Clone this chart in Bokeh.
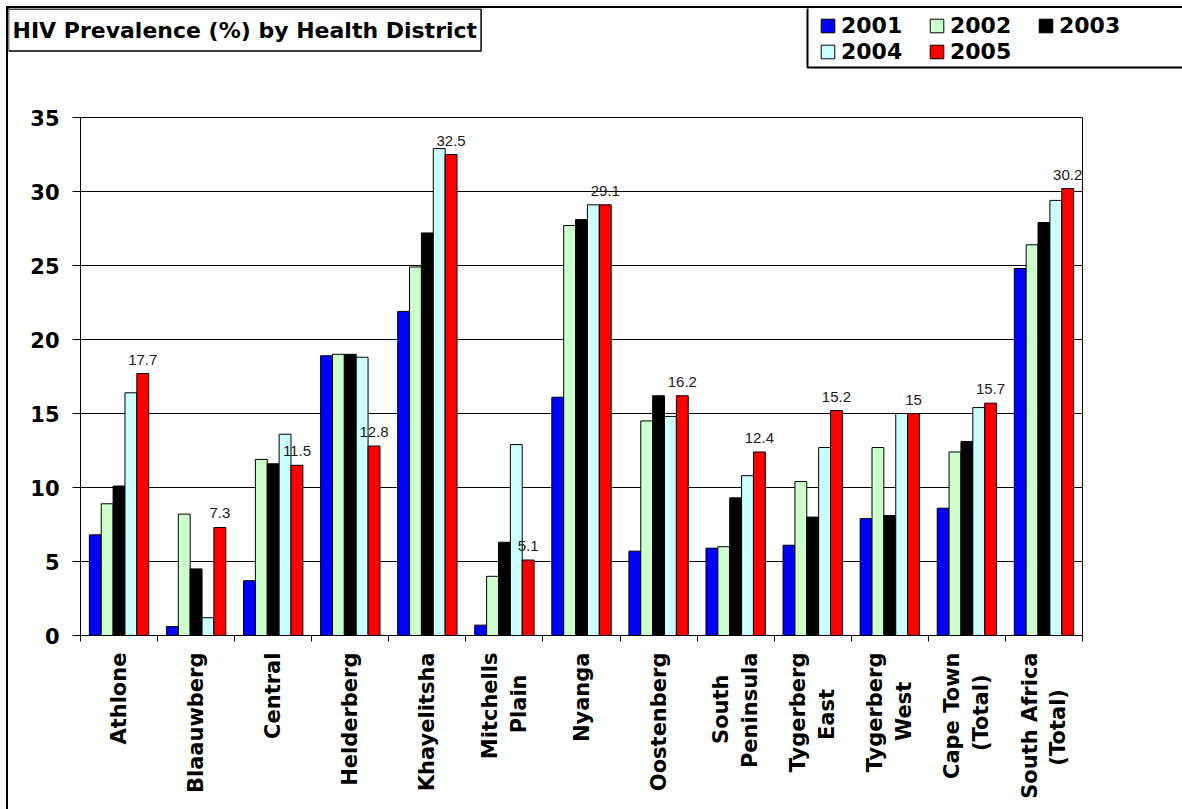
import math
from bokeh.plotting import figure
from bokeh.layouts import column
from bokeh.models import (ColumnDataSource, Range1d, FixedTicker, Legend, LegendItem,
                          LabelSet, Label, BoxAnnotation)
from bokeh.core.properties import value
from bokeh.transform import dodge
from bokeh.embed import file_html
from bokeh.resources import INLINE

NB = "\u00a0"
districts = ["Athlone", "Blaauwberg", "Central", "Helderberg", "Khayelitsha",
             "Mitchells\nPlain" + NB * 3, "Nyanga", "Oostenberg",
             "South" + NB * 3 + "\nPeninsula",
             "Tygerberg\nEast" + NB * 5, "Tygerberg\nWest" + NB * 4,
             "Cape Town\n(Total)" + NB * 3,
             "South Africa\n(Total)" + NB * 5]
years = ["2001", "2002", "2003", "2004", "2005"]
y2001 = [6.8, 0.6, 3.7, 18.9, 21.9, 0.7, 16.1, 5.7, 5.9, 6.1, 7.9, 8.6, 24.8]
y2002 = [8.9, 8.2, 11.9, 19.0, 24.9, 4.0, 27.7, 14.5, 6.0, 10.4, 12.7, 12.4, 26.4]
y2003 = [10.1, 4.5, 11.6, 19.0, 27.2, 6.3, 28.1, 16.2, 9.3, 8.0, 8.1, 13.1, 27.9]
y2004 = [16.4, 1.2, 13.6, 18.8, 32.9, 12.9, 29.1, 14.8, 10.8, 12.7, 15.0, 15.4, 29.4]
y2005 = [17.7, 7.3, 11.5, 12.8, 32.5, 5.1, 29.1, 16.2, 12.4, 15.2, 15.0, 15.7, 30.2]
labels_2005 = ["17.7", "7.3", "11.5", "12.8", "32.5", "5.1", "29.1", "16.2",
               "12.4", "15.2", "15", "15.7", "30.2"]
y_ticks = [0, 5, 10, 15, 20, 25, 30, 35]
colors = ["#0000FF", "#CCFFCC", "#000000", "#CCFFFF", "#FF0000"]

W = 1174
H_HEAD = 70
H_MAIN = 731
BAR_W = 0.154
BOLD = "DejaVu Sans"


def no_align(fig):
    try:
        fig.frame_align = False
    except Exception:
        pass


# ---------------- header: title box and legend (pixel-sized ranges) ----------------
head = figure(width=W, height=H_HEAD, output_backend="svg", toolbar_location=None,
              x_range=Range1d(0, W), y_range=Range1d(H_HEAD, 0),
              x_axis_location=None, y_axis_location=None, min_border=0)
head.min_border_left = 0
head.min_border_right = 0
head.min_border_top = 0
head.min_border_bottom = 0
no_align(head)
head.outline_line_color = None
head.grid.visible = False
head.background_fill_color = "white"
head.border_fill_color = "white"

# legend-only renderers: one zero-height bar placed off the header's view
swatch_src = ColumnDataSource(dict(x=[-1000], top=[0]))
dummy = []
for col in colors:
    r = head.vbar(x="x", top="top", width=1, source=swatch_src,
                  fill_color=col, line_color="black", line_width=1)
    dummy.append(r)

legend_box = BoxAnnotation(left=799, right=W + 40, top=-10, bottom=59,
                           fill_color="white", fill_alpha=1,
                           line_color="black", line_alpha=1, line_width=2,
                           level="underlay")
head.add_layout(legend_box)

legend = Legend(items=[LegendItem(label=y, renderers=[r]) for y, r in zip(years, dummy)],
                location=(811, 14), orientation="horizontal", ncols=3,
                glyph_width=17, glyph_height=17, label_standoff=5, label_width=86,
                label_height=24, spacing=1, padding=3, margin=0,
                border_line_color=None, background_fill_alpha=0,
                label_text_font=BOLD, label_text_font_style="bold",
                label_text_font_size="22px", label_text_color="black")
head.add_layout(legend, "center")

title = Label(x=0, y=21.5, text="HIV Prevalence (%) by Health District",
              text_font=BOLD, text_font_style="bold", text_font_size="22px",
              text_align="left", text_baseline="middle", text_color="black",
              border_line_color="black", border_line_width=1.5,
              background_fill_color="white", background_fill_alpha=1,
              padding=dict(left=4, right=4, top=9, bottom=8))
head.add_layout(title)

# ---------------- main chart ----------------
src = ColumnDataSource(dict(
    x=list(range(1, len(districts) + 1)),
    y2001=y2001, y2002=y2002, y2003=y2003, y2004=y2004, y2005=y2005,
    lab=labels_2005,
))

p = figure(width=W, height=H_MAIN, output_backend="svg", toolbar_location=None,
           x_range=Range1d(0.5, len(districts) + 0.5), y_range=Range1d(0, 35),
           min_border_left=72, min_border_right=100, min_border_top=39,
           min_border_bottom=174)
no_align(p)
p.background_fill_color = "white"
p.border_fill_color = "white"
p.outline_line_color = "black"
p.outline_line_width = 1

cols = ["y2001", "y2002", "y2003", "y2004", "y2005"]
for i, (c, col) in enumerate(zip(cols, colors)):
    off = (i - 2) * BAR_W
    p.vbar(x=dodge("x", off, range=p.x_range), top=c, width=BAR_W, source=src,
           fill_color=col, line_color="black", line_width=1)

ls = LabelSet(x=dodge("x", 2 * BAR_W, range=p.x_range), y="y2005", text="lab", source=src,
              text_align="center", text_baseline="alphabetic", y_offset=9,
              text_font=value("Liberation Sans"), text_font_size="15px",
              text_color="#1a1a1a")
p.add_layout(ls)

p.yaxis.ticker = FixedTicker(ticks=y_ticks)
p.yaxis.major_label_text_font = BOLD
p.yaxis.major_label_text_font_style = "bold"
p.yaxis.major_label_text_font_size = "21px"
p.yaxis.major_label_text_color = "black"
p.yaxis.major_tick_out = 8
p.yaxis.major_tick_in = 0
p.yaxis.minor_tick_line_color = None
p.yaxis.major_label_standoff = 13
p.yaxis.axis_line_color = "black"
p.yaxis.major_tick_line_color = "black"

p.xaxis.ticker = FixedTicker(ticks=list(range(1, len(districts) + 1)),
                             minor_ticks=[i + 0.5 for i in range(0, len(districts) + 1)])
p.xaxis.major_label_overrides = {i + 1: d for i, d in enumerate(districts)}
p.xaxis.major_label_orientation = math.pi / 2
p.xaxis.major_tick_out = 0
p.xaxis.major_tick_in = 0
p.xaxis.major_tick_line_color = None
p.xaxis.minor_tick_out = 6
p.xaxis.minor_tick_in = 0
p.xaxis.minor_tick_line_color = "black"
p.xaxis.major_label_standoff = 11
p.xaxis.major_label_text_font = BOLD
p.xaxis.major_label_text_font_style = "bold"
p.xaxis.major_label_text_font_size = "21px"
p.xaxis.major_label_text_color = "black"
p.xaxis.axis_line_color = "black"

p.xgrid.visible = False
p.ygrid.ticker = FixedTicker(ticks=y_ticks)
p.ygrid.grid_line_color = "black"
p.ygrid.grid_line_width = 1

layout = column(head, p, spacing=0, margin=(8, 0, 0, 8),
                styles={"outline": "2px solid black"})

open("out.html", "w").write(file_html(layout, INLINE))
